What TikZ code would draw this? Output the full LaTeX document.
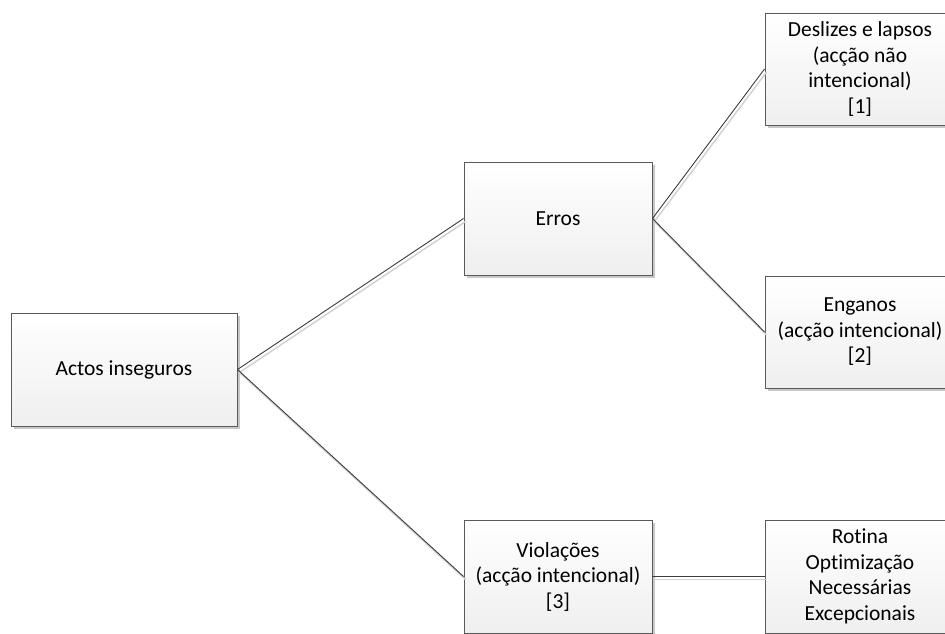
\documentclass[tikz,border=0pt]{standalone}
\usepackage{fontspec}
\setmainfont[Ligatures=CommonOff]{Carlito}
\usetikzlibrary{shadows}
\definecolor{boxline}{HTML}{5A5A5A}
\definecolor{boxbottom}{HTML}{EFEFEF}
\definecolor{shadowgray}{HTML}{C8C8C8}
\definecolor{linedark}{HTML}{3C3C3C}
\definecolor{linelight}{HTML}{D2D2D2}
\begin{document}
\begin{tikzpicture}[x=1pt,y=-1pt,
  box/.style={draw=boxline, line width=0.9pt, top color=white, bottom color=boxbottom,
    drop shadow={fill=shadowgray, opacity=1, shadow xshift=3pt, shadow yshift=-3pt},
    minimum width=188pt, minimum height=113pt, align=center, inner sep=0pt,
    font=\fontsize{21.5}{25.5}\selectfont, text=black},
  conn/.style={draw=linedark, line width=0.9pt},
  connshadow/.style={draw=linelight, line width=1.5pt}]
\useasboundingbox (0,0) rectangle (945,634);
\clip (0,0) rectangle (945,634);

% boxes
\node[box, minimum width=226pt] (actos) at (124,369.5) {Actos inseguros};
\node[box] (erros) at (558,218.5) {Erros};
\node[box] (violacoes) at (558,576.5) {Violações\\(acção intencional)\\{[3]}};
\node[box, minimum width=190pt, minimum height=112pt] (deslizes) at (860,69)
  {Deslizes e lapsos\\(acção não\\intencional)\\{[1]}};
\node[box, minimum width=190pt, minimum height=112pt] (enganos) at (860,332)
  {Enganos\\(acção intencional)\\{[2]}};
\node[box, minimum width=190pt] (rotina) at (860,576.5)
  {Rotina\\Optimização\\Necessárias\\Excepcionais};

% light offset copies of the connectors
\begin{scope}[transform canvas={shift={(2pt,-3pt)}}]
  \draw[connshadow] (actos.east) -- (erros.west);
  \draw[connshadow] (actos.east) -- (violacoes.west);
  \draw[connshadow] (erros.east) -- (deslizes.west);
  \draw[connshadow] (erros.east) -- (enganos.west);
  \draw[connshadow] (violacoes.east) -- (rotina.west);
\end{scope}

% connectors
\draw[conn] (actos.east) -- (erros.west);
\draw[conn] (actos.east) -- (violacoes.west);
\draw[conn] (erros.east) -- (deslizes.west);
\draw[conn] (erros.east) -- (enganos.west);
\draw[conn] (violacoes.east) -- (rotina.west);
\end{tikzpicture}
\end{document}
